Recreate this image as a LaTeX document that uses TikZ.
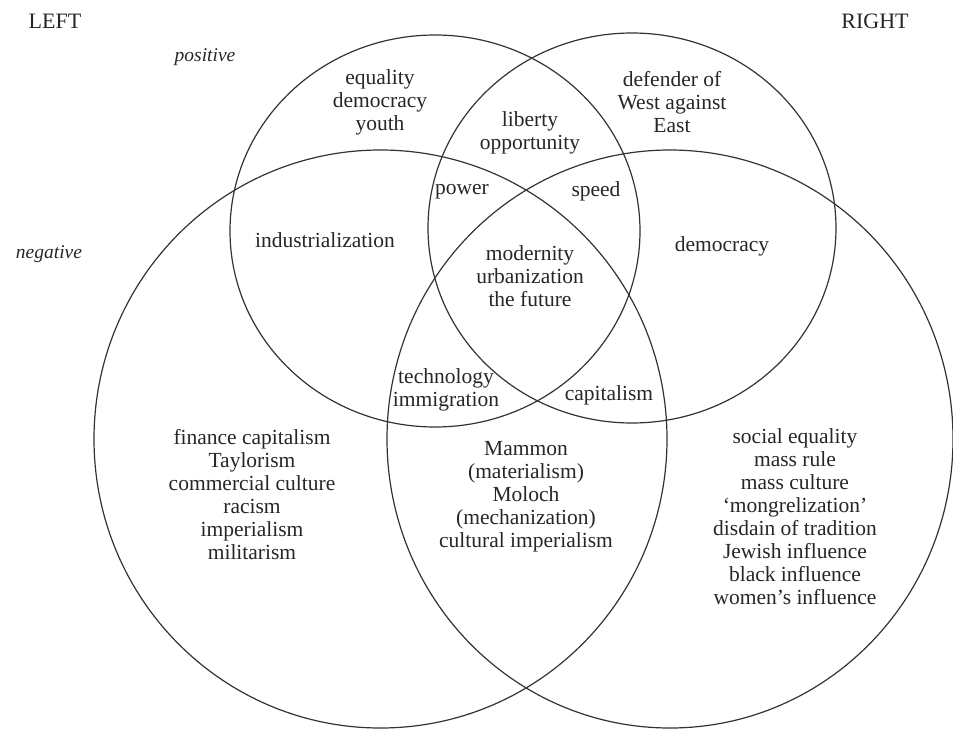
\documentclass[tikz,border=0pt]{standalone}
\usepackage{fontspec}
\setmainfont{Liberation Serif}
\begin{document}
\begin{tikzpicture}[x=1pt,y=-1pt,
  ring/.style={draw=black!80,line width=1.2pt},
  lbl/.style={text=black!85,align=center,inner sep=0pt,font=\fontsize{21.5}{23}\selectfont},
  side/.style={text=black!85,inner sep=0pt,font=\fontsize{22}{24}\selectfont},
  pol/.style={text=black!85,inner sep=0pt,font=\fontsize{19.5}{22}\selectfont\itshape}]
\useasboundingbox (0,0) rectangle (953,731);
% circles
\draw[ring] (435,231) ellipse [x radius=205, y radius=196];
\draw[ring] (632,228) ellipse [x radius=204, y radius=195];
\draw[ring] (380.5,439) ellipse [x radius=286.5, y radius=289];
\draw[ring] (670,439) ellipse [x radius=283, y radius=289];
% headings
\node[side] (left) at (55,21) {LEFT};
\node[side] (right) at (875,21) {RIGHT};
\node[pol] (pos) at (205,57) {positive};
\node[pol] (neg) at (49,254) {negative};
% labels
\node[lbl] (eq) at (380,102) {equality\\democracy\\youth};
\node[lbl] (def) at (672,102) {defender of\\West against\\East};
\node[lbl] (lib) at (530,133) {liberty\\opportunity};
\node[lbl] (pow) at (462,192) {power};
\node[lbl] (spd) at (596,191) {speed};
\node[lbl] (ind) at (325,240) {industrialization};
\node[lbl] (dem) at (722,246) {democracy};
\node[lbl] (mod) at (530,276) {modernity\\urbanization\\the future};
\node[lbl] (tech) at (446,390) {technology\\immigration};
\node[lbl] (cap) at (609,395) {capitalism};
\node[lbl] (fin) at (252,495) {finance capitalism\\Taylorism\\commercial culture\\racism\\imperialism\\militarism};
\node[lbl] (mam) at (526,497) {Mammon\\(materialism)\\Moloch\\(mechanization)\\cultural imperialism};
\node[lbl] (soc) at (795,517) {social equality\\mass rule\\mass culture\\‘mongrelization’\\disdain of tradition\\Jewish influence\\black influence\\women’s influence};
\end{tikzpicture}
\end{document}
